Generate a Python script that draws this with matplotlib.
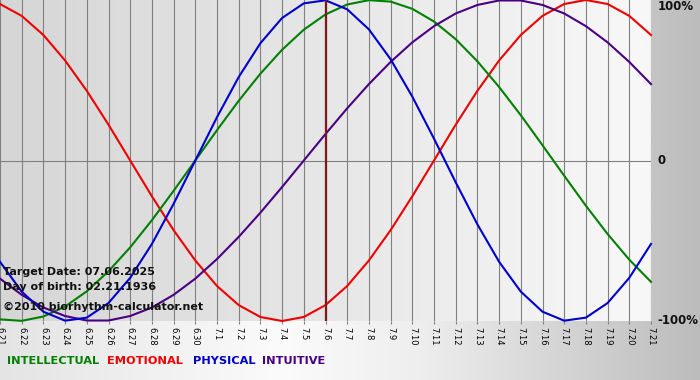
'''
Biorhythm chart for the month around the target date
'''
import numpy as np
import matplotlib.pyplot as plt
from matplotlib.colors import LinearSegmentedColormap

days = ['6.21', '6.22', '6.23', '6.24', '6.25', '6.26', '6.27', '6.28', '6.29', '6.30',
        '7.1', '7.2', '7.3', '7.4', '7.5', '7.6', '7.7', '7.8', '7.9', '7.10',
        '7.11', '7.12', '7.13', '7.14', '7.15', '7.16', '7.17', '7.18', '7.19', '7.20', '7.21']

physical = [-0.631, -0.817, -0.942, -0.998, -0.979, -0.888, -0.731, -0.520, -0.270, 0.0,
            0.270, 0.520, 0.731, 0.888, 0.979, 0.998, 0.942, 0.817, 0.631, 0.398,
            0.136, -0.136, -0.398, -0.631, -0.817, -0.942, -0.998, -0.979, -0.888, -0.731, -0.520]
emotional = [0.975, 0.901, 0.782, 0.623, 0.434, 0.223, 0.0, -0.223, -0.434, -0.623,
             -0.782, -0.901, -0.975, -1.0, -0.975, -0.901, -0.782, -0.623, -0.434, -0.223,
             0.0, 0.223, 0.434, 0.623, 0.782, 0.901, 0.975, 1.0, 0.975, 0.901, 0.782]
intellectual = [-0.990, -0.999, -0.972, -0.910, -0.815, -0.690, -0.541, -0.372, -0.189, 0.0,
                0.189, 0.372, 0.541, 0.690, 0.815, 0.910, 0.972, 0.999, 0.990, 0.945,
                0.866, 0.756, 0.618, 0.458, 0.282, 0.095, -0.095, -0.282, -0.458, -0.618, -0.756]
intuitive = [-0.736, -0.837, -0.916, -0.969, -0.997, -0.997, -0.969, -0.916, -0.837, -0.736,
             -0.614, -0.476, -0.325, -0.165, 0.0, 0.165, 0.325, 0.476, 0.614, 0.736,
             0.837, 0.916, 0.969, 0.997, 0.997, 0.969, 0.916, 0.837, 0.736, 0.614, 0.476]

target_day = '7.6'
info_lines = ['Target Date: 07.06.2025', 'Day of birth: 02.21.1936',
              '\u00a92010 biorhythm-calculator.net']
y_labels = ['100%', '0', '-100%']

series = [
    ('INTELLECTUAL', intellectual, '#008000'),
    ('EMOTIONAL', emotional, '#ee0000'),
    ('PHYSICAL', physical, '#0000cc'),
    ('INTUITIVE', intuitive, '#4b0082'),
]
# draw order: physical on top, like the original
draw_order = ['EMOTIONAL', 'INTELLECTUAL', 'INTUITIVE', 'PHYSICAL']

W, H = 700, 380
fig = plt.figure(figsize=(7, 3.8), dpi=100)

# figure background gradient
bg = fig.add_axes([0, 0, 1, 1], zorder=-5)
bg_cmap = LinearSegmentedColormap.from_list(
    'bg', [(0.0, '#e4e4e4'), (0.4, '#fbfbfb'), (0.6, '#eeeeee'), (1.0, '#bcbcbc')])
bg.imshow(np.linspace(0, 1, 256)[None, :], aspect='auto', cmap=bg_cmap,
          extent=(0, 1, 0, 1))
bg.set_axis_off()

ax_bottom = 1 - 321 / H
ax = fig.add_axes([0, ax_bottom, 651 / W, 321 / H])
ax.set_facecolor('none')
x = np.arange(len(days))
ax.set_xlim(0, len(days) - 1)
ax.set_ylim(-1, 1)

plot_cmap = LinearSegmentedColormap.from_list('plot', ['#d6d6d6', '#f8f8f8'])
ax.imshow(np.linspace(0, 1, 256)[None, :], aspect='auto', cmap=plot_cmap,
          extent=(0, len(days) - 1, -1, 1), zorder=0)

for xi in x:
    ax.axvline(xi, color='#808080', lw=0.8, zorder=1)
ax.axhline(0, color='#808080', lw=0.8, zorder=1)

colors = {name: c for name, _, c in series}
values = {name: v for name, v, _ in series}
for name in draw_order:
    ax.plot(x, values[name], color=colors[name], lw=1.5, zorder=3,
            clip_on=False, solid_joinstyle='round')

ax.axvline(days.index(target_day), color='#7a1a1a', lw=1.6, zorder=4)

for spine in ax.spines.values():
    spine.set_visible(False)
ax.set_yticks([])
ax.set_xticks(x)
ax.set_xticklabels(days, rotation=270, fontsize=6, va='top', ha='center',
                   color='black')
ax.tick_params(axis='x', length=2, width=0.8, color='#808080', pad=2)

# right side percentage labels
for label, yv, va in zip(y_labels, [1, 0, -1], ['top', 'center', 'center']):
    ax.text(1.01, yv, label, transform=ax.get_yaxis_transform(), fontsize=8.5,
            fontweight='bold', va=va, ha='left', color='#111111')

# info text in lower left corner
for line, ypx in zip(info_lines, [272, 287, 307]):
    fig.text(3 / W, 1 - ypx / H, line, fontsize=8, fontweight='bold',
             va='center', ha='left', color='#111111', zorder=10)

# coloured legend along the bottom
for (name, _, c), xpx in zip(series, [7, 107, 193, 262]):
    fig.text(xpx / W, 1 - 361 / H, name, fontsize=8.2, fontweight='bold',
             va='center', ha='left', color=c)

fig.savefig('out.png', dpi=100)
